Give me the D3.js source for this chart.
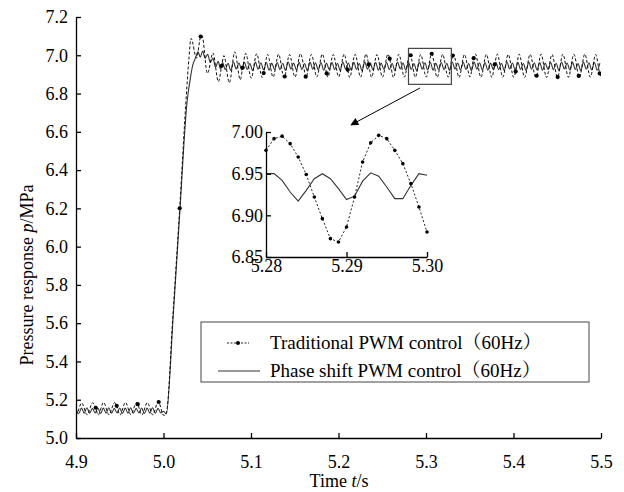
<!DOCTYPE html>
<html>
<head>
<meta charset="utf-8">
<title>Pressure response</title>
<script src="https://d3js.org/d3.v7.min.js"></script>
<style>
  body { margin: 0; background: #fff; }
  svg { display: block; font-family: "Liberation Serif", "Noto Serif CJK SC", "Noto Sans CJK SC", serif; }
  .axis path, .axis line { stroke: #000; stroke-width: 1.3; }
  .axis text { font-size: 18px; fill: #000; font-family: "Liberation Serif", serif; }
</style>
</head>
<body>
<script>
// ---- axis ticks
const xTicks = [4.9, 5.0, 5.1, 5.2, 5.3, 5.4, 5.5];
const yTicks = [5.0, 5.2, 5.4, 5.6, 5.8, 6.0, 6.2, 6.4, 6.6, 6.8, 7.0, 7.2];
const insetXTicks = [5.28, 5.29, 5.30];
const insetYTicks = [6.85, 6.90, 6.95, 7.00];

// ---- traditional PWM (dashed)
const tradHead = [[4.9, 5.128]];
const tradStep = 0.00625;              // time between successive peak / trough
const tradPreStart = 4.90025;
const tradPreValues = [5.122, 5.183, 5.121, 5.184, 5.120, 5.186, 5.121, 5.185, 5.120,
  5.186, 5.122, 5.184, 5.120, 5.185, 5.121, 5.190, 5.118];
const tradRise = [[5.0030, 5.126], [5.0110, 5.66], [5.0265, 6.82], [5.0290, 6.98]];
const tradSteadyStart = 5.0315;
const tradSteadyValues = [
  7.088, 6.985, 7.102, 6.905, 7.012, 6.862, 6.998, 6.856, 7.018, 6.872,
  7.010, 6.880, 7.008, 6.884, 7.004, 6.886, 7.006, 6.884, 7.004, 6.886,
  7.008, 6.884, 7.004, 6.887, 7.006, 6.885, 7.004, 6.887, 7.006, 6.884,
  7.005, 6.886, 7.007, 6.885, 7.004, 6.886, 7.006, 6.884, 7.005, 6.886,
  7.007, 6.885, 7.004, 6.886, 7.008, 6.885, 7.005, 6.886, 7.006, 6.884,
  7.004, 6.887, 7.006, 6.885, 7.005, 6.884, 7.006, 6.886, 7.004, 6.885,
  7.006, 6.884, 7.005, 6.886, 7.006, 6.884, 7.004, 6.885, 7.006, 6.885,
  7.005, 6.884, 7.006, 6.886, 7.004, 6.885];
const tradMarkerTimes = [4.9225, 4.9465, 4.9705, 4.9945, 5.0185, 5.0425, 5.0665, 5.0905,
  5.1145, 5.1385, 5.1625, 5.1865, 5.2105, 5.2345, 5.2585, 5.2825, 5.3065, 5.3305,
  5.3545, 5.3785, 5.4025, 5.4265, 5.4505, 5.4745, 5.4985];
const tradMarkerValues = [5.158, 5.168, 5.177, 5.188, 6.20, 7.098, 6.945, 6.935,
  6.907, 6.889, 6.888, 6.905, 6.925, 6.952, 6.982, 7.000, 7.008, 6.998,
  6.985, 6.952, 6.915, 6.893, 6.886, 6.892, 6.905];

// ---- phase shift PWM (solid)
const solidStep = 0.003125;
const solidPreStart = 4.9;
const solidPreValues = [5.150, 5.128, 5.156, 5.130, 5.158, 5.129, 5.155, 5.131, 5.157,
  5.128, 5.156, 5.130, 5.158, 5.129, 5.155, 5.131, 5.157, 5.128, 5.156, 5.130, 5.158,
  5.129, 5.155, 5.131, 5.157, 5.128, 5.156, 5.130, 5.158, 5.129, 5.155, 5.131, 5.140];
const solidRise = [[5.0032, 5.126], [5.0110, 5.63], [5.0185, 6.17], [5.0270, 6.76],
  [5.0300, 6.86], [5.0335, 6.95], [5.0365, 6.985], [5.0395, 7.018], [5.0420, 6.99],
  [5.0448, 7.022], [5.0475, 6.985], [5.0505, 7.005], [5.0535, 6.962], [5.0565, 6.985],
  [5.0595, 6.938], [5.0625, 6.968], [5.0650, 6.930]];
const solidSteadyStart = 5.0675;
const solidSteadyValues = [
  6.962, 6.925, 6.958, 6.921, 6.965, 6.928, 6.960, 6.923, 6.963, 6.926,
  6.957, 6.920, 6.964, 6.927, 6.961, 6.924, 6.962, 6.922, 6.959, 6.926,
  6.962, 6.925, 6.958, 6.921, 6.965, 6.928, 6.960, 6.923, 6.963, 6.926,
  6.957, 6.920, 6.964, 6.927, 6.961, 6.924, 6.962, 6.922, 6.959, 6.926,
  6.962, 6.925, 6.958, 6.921, 6.965, 6.928, 6.960, 6.923, 6.963, 6.926,
  6.957, 6.920, 6.964, 6.927, 6.961, 6.924, 6.962, 6.922, 6.959, 6.926,
  6.962, 6.925, 6.958, 6.921, 6.965, 6.928, 6.960, 6.923, 6.963, 6.926,
  6.957, 6.920, 6.964, 6.927, 6.961, 6.924, 6.962, 6.922, 6.959, 6.926,
  6.962, 6.925, 6.958, 6.921, 6.965, 6.928, 6.960, 6.923, 6.963, 6.926,
  6.957, 6.920, 6.964, 6.927, 6.961, 6.924, 6.962, 6.922, 6.959, 6.926,
  6.962, 6.925, 6.958, 6.921, 6.965, 6.928, 6.960, 6.923, 6.963, 6.926,
  6.957, 6.920, 6.964, 6.927, 6.961, 6.924, 6.962, 6.922, 6.959, 6.926,
  6.962, 6.925, 6.958, 6.921, 6.965, 6.928, 6.960, 6.923, 6.963, 6.926,
  6.957, 6.920, 6.964, 6.927, 6.961, 6.924, 6.962, 6.922, 6.959];

// ---- inset (5.28 - 5.30 s), one sample per ms
const insetStart = 5.28;
const insetStep = 0.001;
const insetTradValues = [6.978, 6.992, 6.995, 6.986, 6.970, 6.949, 6.922, 6.896, 6.872,
  6.868, 6.886, 6.922, 6.964, 6.987, 6.996, 6.992, 6.978, 6.962, 6.938, 6.910, 6.880];
const insetSolidValues = [6.950, 6.950, 6.942, 6.928, 6.917, 6.930, 6.944, 6.950, 6.944,
  6.932, 6.919, 6.923, 6.941, 6.951, 6.947, 6.934, 6.920, 6.920, 6.936, 6.950, 6.948];

// zoom box and arrow, in data units
const zoomBoxT = [5.28, 5.329];
const zoomBoxP = [6.848, 7.036];
const arrowFrom = [5.2931, 6.829];
const arrowTo = [5.2143, 6.636];

const legendLabels = ["Traditional PWM control（60Hz）", "Phase shift PWM control（60Hz）"];

// ---------------------------------------------------------------
const grid = (start, step, values) => values.map((v, i) => [start + i * step, v]);
function merged(parts) {
  const all = parts.flat().sort((a, b) => a[0] - b[0]);
  return all.filter((d, i) => i === 0 || Math.abs(d[0] - all[i - 1][0]) > 1e-6);
}

const tradMarkers = tradMarkerTimes.map((t, i) => [t, tradMarkerValues[i]]);
const tradData = merged([tradHead, grid(tradPreStart, tradStep, tradPreValues), tradRise,
  grid(tradSteadyStart, tradStep, tradSteadyValues), tradMarkers]);
const solidData = merged([grid(solidPreStart, solidStep, solidPreValues), solidRise,
  grid(solidSteadyStart, solidStep, solidSteadyValues)]);
const insetTrad = grid(insetStart, insetStep, insetTradValues);
const insetSolid = grid(insetStart, insetStep, insetSolidValues);

const W = 624, H = 492;
const svg = d3.select("body").append("svg").attr("width", W).attr("height", H);

const x = d3.scaleLinear().domain([4.9, 5.5]).range([76, 601]);
const y = d3.scaleLinear().domain([5.0, 7.2]).range([438, 17]);

svg.append("defs").append("clipPath").attr("id", "plotClip")
  .append("rect").attr("x", 76).attr("y", 0).attr("width", 525).attr("height", 438);
const arrowDef = svg.select("defs").append("marker")
  .attr("id", "arrowHead").attr("viewBox", "0 0 10 10").attr("refX", 9).attr("refY", 5)
  .attr("markerWidth", 11).attr("markerHeight", 8).attr("markerUnits", "userSpaceOnUse")
  .attr("orient", "auto");
arrowDef.append("path").attr("d", "M0,0 L10,5 L0,10 Z").attr("fill", "#000");

const plot = svg.append("g").attr("clip-path", "url(#plotClip)");
const line = d3.line().x(d => x(d[0])).y(d => y(d[1])).curve(d3.curveMonotoneX);

plot.append("path").datum(solidData)
  .attr("d", line).attr("fill", "none").attr("stroke", "#333").attr("stroke-width", 1.1);
plot.append("path").datum(tradData)
  .attr("d", line).attr("fill", "none").attr("stroke", "#111").attr("stroke-width", 1)
  .attr("stroke-dasharray", "3,2");
plot.selectAll("circle.mk").data(tradMarkers).enter().append("circle")
  .attr("class", "mk").attr("cx", d => x(d[0])).attr("cy", d => y(d[1]))
  .attr("r", 2.1).attr("fill", "#000");

// axes
const fmt1 = d3.format(".1f");
svg.append("g").attr("class", "axis").attr("transform", "translate(0,438)")
  .call(d3.axisBottom(x).tickValues(xTicks).tickFormat(fmt1).tickSizeInner(-5).tickSizeOuter(0).tickPadding(17));
svg.append("g").attr("class", "axis").attr("transform", "translate(76,0)")
  .call(d3.axisLeft(y).tickValues(yTicks).tickFormat(fmt1).tickSizeInner(-5).tickSizeOuter(0).tickPadding(8));

// axis titles
const yTitle = svg.append("text").attr("transform", "translate(33,275) rotate(-90)")
  .attr("text-anchor", "middle").attr("font-size", 18);
yTitle.append("tspan").text("Pressure response ");
yTitle.append("tspan").attr("font-style", "italic").text("p");
yTitle.append("tspan").text("/MPa");
const xTitle = svg.append("text").attr("x", 339).attr("y", 487)
  .attr("text-anchor", "middle").attr("font-size", 18);
xTitle.append("tspan").text("Time ");
xTitle.append("tspan").attr("font-style", "italic").text("t");
xTitle.append("tspan").text("/s");

// zoom box and arrow
svg.append("rect")
  .attr("x", x(zoomBoxT[0])).attr("y", y(zoomBoxP[1]))
  .attr("width", x(zoomBoxT[1]) - x(zoomBoxT[0])).attr("height", y(zoomBoxP[0]) - y(zoomBoxP[1]))
  .attr("fill", "none").attr("stroke", "#444").attr("stroke-width", 1.2);
svg.append("line")
  .attr("x1", x(arrowFrom[0])).attr("y1", y(arrowFrom[1]))
  .attr("x2", x(arrowTo[0])).attr("y2", y(arrowTo[1]))
  .attr("stroke", "#000").attr("stroke-width", 1).attr("marker-end", "url(#arrowHead)");

// inset
const xi = d3.scaleLinear().domain([5.28, 5.30]).range([266, 427]);
const yi = d3.scaleLinear().domain([6.85, 7.00]).range([257, 132]);
const inset = svg.append("g");
const lineI = d3.line().x(d => xi(d[0])).y(d => yi(d[1]));
inset.append("path").datum(insetSolid).attr("d", lineI)
  .attr("fill", "none").attr("stroke", "#333").attr("stroke-width", 1.1);
inset.append("path").datum(insetTrad).attr("d", lineI)
  .attr("fill", "none").attr("stroke", "#222").attr("stroke-width", 1).attr("stroke-dasharray", "2,2");
inset.selectAll("circle").data(insetTrad).enter().append("circle")
  .attr("cx", d => xi(d[0])).attr("cy", d => yi(d[1])).attr("r", 1.8).attr("fill", "#000");
const fmt2 = d3.format(".2f");
inset.append("g").attr("class", "axis").attr("transform", "translate(0,257)")
  .call(d3.axisBottom(xi).tickValues(insetXTicks).tickFormat(fmt2).tickSizeInner(-5).tickSizeOuter(0).tickPadding(2));
inset.append("g").attr("class", "axis").attr("transform", "translate(266,0)")
  .call(d3.axisLeft(yi).tickValues(insetYTicks).tickFormat(fmt2).tickSizeInner(-5).tickSizeOuter(0).tickPadding(3));
inset.selectAll(".axis path, .axis line").attr("stroke-width", 1.5);

// legend
const lg = svg.append("g");
lg.append("rect").attr("x", 201).attr("y", 322).attr("width", 388).attr("height", 60)
  .attr("fill", "#fff").attr("stroke", "#555").attr("stroke-width", 1.1);
lg.append("line").attr("x1", 227).attr("x2", 249).attr("y1", 343).attr("y2", 343)
  .attr("stroke", "#222").attr("stroke-width", 1).attr("stroke-dasharray", "2,1.5");
lg.append("circle").attr("cx", 238).attr("cy", 343).attr("r", 2).attr("fill", "#000");
lg.append("line").attr("x1", 218).attr("x2", 260).attr("y1", 371).attr("y2", 371)
  .attr("stroke", "#333").attr("stroke-width", 1.1);
lg.selectAll("text").data(legendLabels).enter().append("text")
  .attr("x", 270).attr("y", (d, i) => 349 + i * 28).attr("font-size", 19).text(d => d);
</script>
</body>
</html>
